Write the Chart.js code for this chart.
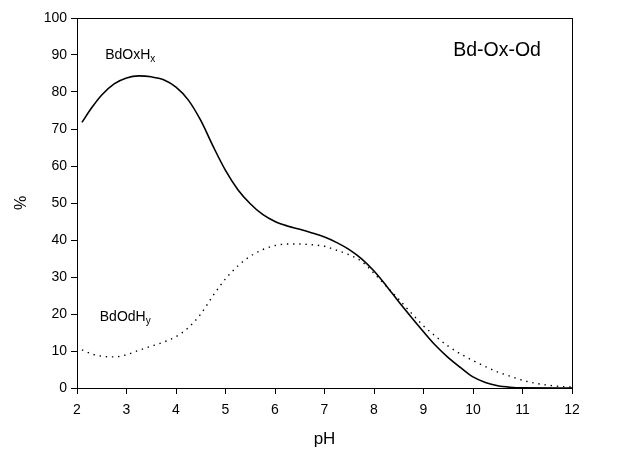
<!DOCTYPE html>
<html>
<head>
<meta charset="utf-8">
<script src="https://cdn.jsdelivr.net/npm/chart.js@4/dist/chart.umd.min.js"></script>
<style>
  html, body { margin: 0; padding: 0; background: #fff; }
</style>
</head>
<body>
<canvas id="chart" width="619" height="453"></canvas>
<script>
// pH grid and % values
var phOx  = [2.1, 2.3, 2.5, 2.75, 3.0, 3.25, 3.5, 3.75, 4.0, 4.25, 4.5, 4.75, 5.0, 5.25, 5.5, 5.75, 6.0, 6.25, 6.5, 6.75, 7.0, 7.25, 7.5, 7.75, 8.0, 8.25, 8.5, 8.75, 9.0, 9.25, 9.5, 9.75, 10.0, 10.25, 10.5, 10.75, 11.0, 12.0];
var pctOx = [71.8, 75.8, 79.2, 82.2, 83.8, 84.35, 84.1, 83.3, 81.3, 77.8, 72.3, 65.3, 58.8, 53.6, 49.8, 46.9, 45.0, 43.8, 42.9, 41.9, 40.8, 39.3, 37.4, 34.9, 31.6, 27.6, 23.3, 19.2, 15.2, 11.4, 8.2, 5.5, 3.0, 1.5, 0.6, 0.2, 0.05, 0.0];

var phOd  = [2.1, 2.3, 2.5, 2.75, 3.0, 3.25, 3.5, 3.75, 4.0, 4.25, 4.5, 4.75, 5.0, 5.25, 5.5, 5.75, 6.0, 6.25, 6.5, 6.75, 7.0, 7.25, 7.5, 7.75, 8.0, 8.25, 8.5, 8.75, 9.0, 9.25, 9.5, 9.75, 10.0, 10.25, 10.5, 10.75, 11.0, 11.25, 11.5, 11.75, 12.0];
var pctOd = [10.3, 9.2, 8.6, 8.4, 9.0, 10.2, 11.3, 12.4, 13.9, 16.3, 20.0, 25.0, 29.5, 33.0, 35.6, 37.4, 38.5, 38.9, 38.9, 38.7, 38.3, 37.2, 36.0, 34.2, 31.0, 27.5, 24.0, 20.3, 16.8, 13.9, 11.3, 9.2, 7.4, 5.8, 4.3, 3.2, 2.1, 1.3, 0.8, 0.45, 0.25];

var xTicks = [2, 3, 4, 5, 6, 7, 8, 9, 10, 11, 12];
var yTicks = [0, 10, 20, 30, 40, 50, 60, 70, 80, 90, 100];

// text labels placed in data units: [text, subscript, pH, %, font size]
var labels = [
  ['BdOxH', 'x', 2.57, 88.8, 14],
  ['BdOdH', 'y', 2.46, 18.2, 14],
  ['Bd-Ox-Od', '', 9.6, 89.7, 19.5]
];

var FONT = '"Liberation Sans", Arial, sans-serif';

function toPoints(xs, ys) {
  return xs.map(function (x, i) { return { x: x, y: ys[i] }; });
}

var framePlugin = {
  id: 'frame',
  afterDraw: function (chart) {
    var ctx = chart.ctx, a = chart.chartArea;
    ctx.save();
    ctx.strokeStyle = '#000';
    ctx.lineWidth = 1;
    ctx.strokeRect(Math.round(a.left) + 0.5, Math.round(a.top) + 0.5,
      Math.round(a.right - a.left), Math.round(a.bottom - a.top));

    var xs = chart.scales.x, ys = chart.scales.y;
    ctx.fillStyle = '#000';
    ctx.textBaseline = 'alphabetic';
    labels.forEach(function (l) {
      var px = xs.getPixelForValue(l[2]);
      var py = ys.getPixelForValue(l[3]);
      ctx.font = l[4] + 'px ' + FONT;
      ctx.fillText(l[0], px, py);
      if (l[1]) {
        var w = ctx.measureText(l[0]).width;
        ctx.font = Math.round(l[4] * 0.68) + 'px ' + FONT;
        ctx.fillText(l[1], px + w, py + 3);
      }
    });
    ctx.restore();
  }
};

var ctx = document.getElementById('chart').getContext('2d');
new Chart(ctx, {
  type: 'line',
  data: {
    datasets: [{
      label: 'BdOxHx',
      data: toPoints(phOx, pctOx),
      borderColor: '#000',
      borderWidth: 1.6,
      pointRadius: 0,
      cubicInterpolationMode: 'monotone',
      fill: false
    }, {
      label: 'BdOdHy',
      data: toPoints(phOd, pctOd),
      borderColor: '#000',
      borderWidth: 1.4,
      borderDash: [1.4, 4.8],
      pointRadius: 0,
      cubicInterpolationMode: 'monotone',
      fill: false
    }]
  },
  options: {
    responsive: false,
    animation: false,
    devicePixelRatio: 1,
    layout: { padding: { top: 18, right: 47, left: 0, bottom: 0 } },
    plugins: {
      legend: { display: false },
      tooltip: { enabled: false }
    },
    scales: {
      x: {
        type: 'linear',
        min: 2, max: 12,
        afterBuildTicks: function (s) { s.ticks = xTicks.map(function (v) { return { value: v }; }); },
        afterFit: function (s) { s.height = 65; },
        grid: { drawOnChartArea: false, drawTicks: true, tickLength: 6, color: '#000' },
        border: { display: true, color: '#000', width: 1 },
        ticks: { color: '#000', padding: 8, maxRotation: 0, font: { family: FONT, size: 14 } },
        title: { display: true, text: 'pH', color: '#000', padding: { top: 0, bottom: 3 }, font: { family: FONT, size: 17 } }
      },
      y: {
        min: 0, max: 100,
        afterBuildTicks: function (s) { s.ticks = yTicks.map(function (v) { return { value: v }; }); },
        afterFit: function (s) { s.width = 77; },
        grid: { drawOnChartArea: false, drawTicks: true, tickLength: 6, color: '#000' },
        border: { display: true, color: '#000', width: 1 },
        ticks: { color: '#000', padding: 4, font: { family: FONT, size: 14 } },
        title: { display: true, text: '%', color: '#000', padding: { top: 12, bottom: 0 }, font: { family: FONT, size: 16 } }
      }
    }
  },
  plugins: [framePlugin]
});
</script>
</body>
</html>
